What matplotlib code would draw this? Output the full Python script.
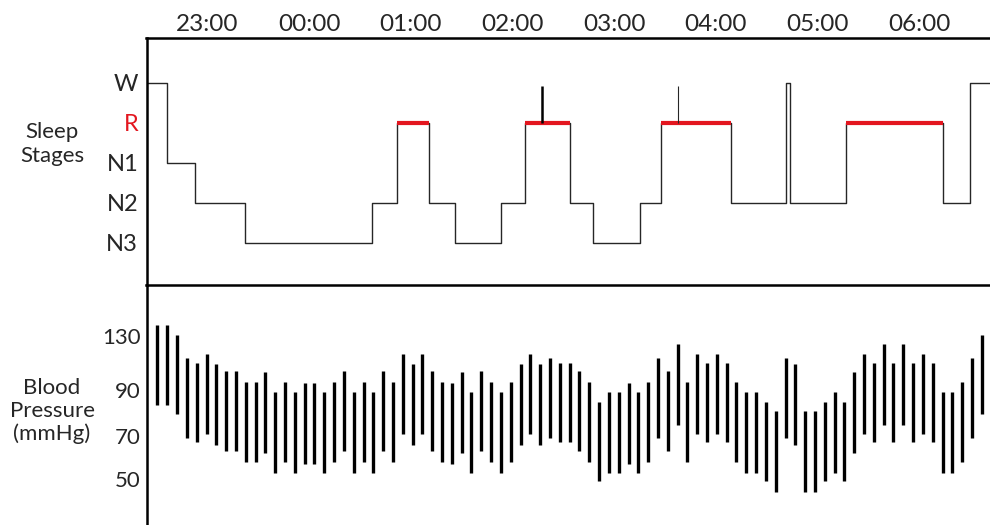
import matplotlib

matplotlib.use("Agg")
import matplotlib.pyplot as plt  # noqa: E402
import numpy as np  # noqa: E402

INK = "#262626"
RED = "#e3161f"

# --- hypnogram: stage start times in clock hours (24 = midnight) ---------
STAGE_LEVELS = ["N3", "N2", "N1", "R", "W"]
STAGE_START = [22.40, 22.60, 22.88, 23.37, 24.62, 24.86, 25.18, 25.43, 25.89, 26.12,
               26.56, 26.79, 27.25, 27.46, 28.15, 28.69, 28.73, 29.28, 30.23, 30.50]
STAGE_END = 30.70
STAGES = ["W", "N1", "N2", "N3", "N2", "R", "N2", "N3", "N2", "R",
          "N2", "N3", "N2", "R", "N2", "W", "N2", "R", "N2", "W"]
AROUSAL_TIMES = [26.285, 27.623]
AROUSAL_TOP = 3.92

# --- blood pressure, one reading every ~5.8 min ---------------------------
BP_FIRST = 22.508
BP_STEP = 0.0965
SYSTOLIC = [138, 138, 131, 113.5, 110, 117, 109, 104, 104, 96, 96, 103, 89, 96, 89, 95, 95, 89, 96, 104,
            89, 96, 89, 104, 96, 117, 109, 117, 104, 96, 95, 103, 89, 104, 96, 89, 96, 109, 117, 109, 113.5,
            110, 110, 104, 96, 85, 89, 89, 95, 89, 96, 113.5, 104, 124, 96, 117, 110, 117, 110, 96, 89, 89,
            85, 81, 113.5, 109, 81, 81, 85, 89, 85, 103, 117, 110, 124, 110, 124, 110, 117, 110, 89, 89, 96,
            113.5, 131]
DIASTOLIC = [83.5, 83.5, 79.5, 69, 67, 71, 66, 63, 63, 58, 58, 62, 53, 58, 53, 57, 57, 53, 58, 63,
             53, 58, 53, 63, 58, 71, 66, 71, 63, 58, 57, 62, 53, 63, 58, 53, 58, 66, 71, 66, 69,
             67, 67, 63, 58, 49, 53, 53, 57, 53, 58, 69, 63, 75, 58, 71, 67, 71, 67, 58, 53, 53,
             49, 44, 69, 66, 44, 44, 49, 53, 49, 62, 71, 67, 75, 67, 75, 67, 71, 67, 53, 53, 58,
             69, 79.5]

HOUR_TICKS = [23, 24, 25, 26, 27, 28, 29, 30]
HOUR_LABELS = ["23:00", "00:00", "01:00", "02:00", "03:00", "04:00", "05:00", "06:00"]
BP_TICKS = [50, 70, 90, 130]

# the drawn BP axis is not linear: relative height of each labelled value
_BP_ANCHOR_VAL = [20, 50, 70, 90, 130, 180]
_BP_ANCHOR_POS = [-18.5, 46, 89, 135, 189, 256.5]


def _bp_fwd(v):
    return np.interp(v, _BP_ANCHOR_VAL, _BP_ANCHOR_POS)


def _bp_inv(u):
    return np.interp(u, _BP_ANCHOR_POS, _BP_ANCHOR_VAL)


def main():
    plt.rcParams["font.family"] = ["Lato", "DejaVu Sans"]
    plt.rcParams["text.color"] = INK

    fig = plt.figure(figsize=(9.9, 5.25), dpi=100)
    left = 146.5 / 990
    split = 1 - 285 / 525
    top = 1 - 38 / 525
    ax2 = fig.add_axes([left, 0, 1 - left, split])
    ax1 = fig.add_axes([left, split, 1 - left, top - split], sharex=ax2)
    ax2.patch.set_visible(False)

    # --- sleep stages --------------------------------------------------
    lvl = {name: i for i, name in enumerate(STAGE_LEVELS)}
    xs = STAGE_START + [STAGE_END]
    ys = [lvl[s] for s in STAGES] + [lvl[STAGES[-1]]]
    ax1.step(xs, ys, where="post", color=INK, lw=1.0, zorder=2)
    for i, s in enumerate(STAGES):
        if s == "R":
            end = STAGE_START[i + 1] if i + 1 < len(STAGES) else STAGE_END
            ax1.plot([STAGE_START[i], end], [lvl["R"], lvl["R"]], color=RED,
                     lw=3.0, solid_capstyle="butt", zorder=3)
    ax1.vlines(AROUSAL_TIMES[0], lvl["R"], AROUSAL_TOP, color="black", lw=1.8, zorder=4)
    ax1.vlines(AROUSAL_TIMES[1], lvl["R"], AROUSAL_TOP, color=INK, lw=0.8, zorder=4)

    ax1.set_ylim(-1.06, 5.12)
    ax1.set_yticks(range(len(STAGE_LEVELS)))
    ax1.set_yticklabels(STAGE_LEVELS)
    ax1.set_xlim(22.40, 30.695)
    ax1.set_xticks(HOUR_TICKS)
    ax1.set_xticklabels(HOUR_LABELS)
    ax1.xaxis.tick_top()
    ax1.tick_params(axis="x", length=0, pad=2, labelsize=17.5, labelcolor=INK)
    ax1.tick_params(axis="y", length=0, pad=6, labelsize=17, labelcolor=INK)
    ax1.get_yticklabels()[lvl["R"]].set_color(RED)
    ax1.spines["right"].set_visible(False)
    for side in ("top", "left", "bottom"):
        ax1.spines[side].set_linewidth(1.8)
        ax1.spines[side].set_color("black")

    # --- blood pressure -------------------------------------------------
    bp_t = BP_FIRST + BP_STEP * np.arange(len(SYSTOLIC))
    ax2.vlines(bp_t, DIASTOLIC, SYSTOLIC, color="black", lw=2.4)
    ax2.set_yscale("function", functions=(_bp_fwd, _bp_inv))
    ax2.set_ylim(28.6, 167.8)
    ax2.set_yticks(BP_TICKS)
    ax2.set_yticklabels([str(v) for v in BP_TICKS])
    ax2.yaxis.set_minor_locator(matplotlib.ticker.NullLocator())
    ax2.tick_params(axis="y", length=0, pad=4, labelsize=16, labelcolor=INK)
    ax2.tick_params(axis="x", bottom=False, labelbottom=False)
    for side in ("top", "right", "bottom"):
        ax2.spines[side].set_visible(False)
    ax2.spines["left"].set_linewidth(1.8)
    ax2.spines["left"].set_color("black")

    fig.text(52 / 990, 1 - 144 / 525, "Sleep\nStages", ha="center", va="center",
             fontsize=16, linespacing=1.2, color=INK)
    fig.text(52 / 990, 1 - 411 / 525, "Blood\nPressure\n(mmHg)", ha="center",
             va="center", fontsize=16, linespacing=1.15, color=INK)

    fig.savefig("out.png", dpi=100)
    plt.close(fig)


if __name__ == "__main__":
    main()
